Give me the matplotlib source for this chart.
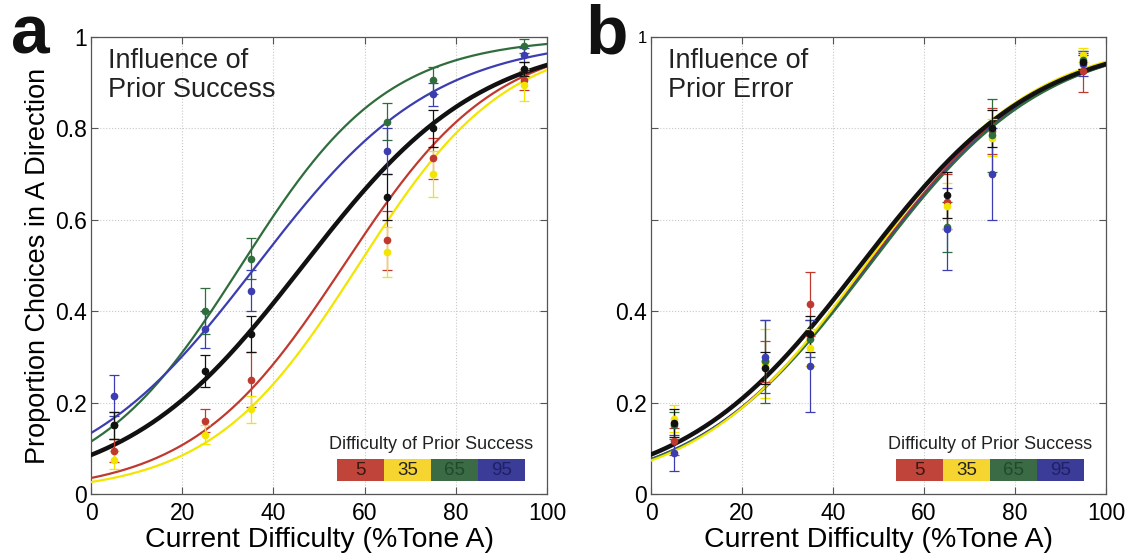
import numpy as np
import matplotlib
matplotlib.use("Agg")
import matplotlib.pyplot as plt
from matplotlib.patches import Rectangle

plt.rcParams["font.family"] = ["Liberation Sans", "DejaVu Sans"]

# Difficulty levels of the current trial (% tone A)
X_LEVELS = [5, 25, 35, 65, 75, 95]
PRIOR_LEVELS = ["5", "35", "65", "95"]

# Panel a: influence of prior success  (mean, error half-width)
a_red = [0.095, 0.16, 0.25, 0.555, 0.735, 0.905]
a_red_err = [0.025, 0.025, 0.06, 0.065, 0.045, 0.02]
a_yellow = [0.075, 0.13, 0.185, 0.53, 0.70, 0.895]
a_yellow_err = [0.02, 0.02, 0.03, 0.055, 0.05, 0.035]
a_green = [0.15, 0.40, 0.515, 0.815, 0.905, 0.98]
a_green_err = [0.03, 0.05, 0.045, 0.04, 0.03, 0.015]
a_blue = [0.215, 0.36, 0.445, 0.75, 0.875, 0.96]
a_blue_err = [0.045, 0.04, 0.045, 0.05, 0.025, 0.015]
a_black = [0.15, 0.27, 0.35, 0.65, 0.80, 0.93]
a_black_err = [0.03, 0.035, 0.04, 0.05, 0.04, 0.015]

# Panel b: influence of prior error
b_red = [0.115, 0.29, 0.415, 0.64, 0.795, 0.925]
b_red_err = [0.03, 0.045, 0.07, 0.06, 0.05, 0.045]
b_yellow = [0.165, 0.285, 0.32, 0.63, 0.78, 0.96]
b_yellow_err = [0.03, 0.075, 0.04, 0.05, 0.04, 0.015]
b_green = [0.15, 0.29, 0.34, 0.585, 0.785, 0.95]
b_green_err = [0.03, 0.09, 0.04, 0.055, 0.08, 0.02]
b_blue = [0.09, 0.30, 0.28, 0.58, 0.70, 0.94]
b_blue_err = [0.04, 0.08, 0.10, 0.09, 0.10, 0.025]
b_black = [0.155, 0.275, 0.35, 0.655, 0.80, 0.945]
b_black_err = [0.03, 0.035, 0.04, 0.05, 0.04, 0.015]

# Logistic fit parameters (midpoint, scale)
a_fits = {"red": (55.4, 16.7), "yellow": (58.6, 16.2), "green": (32.9, 16.1),
          "blue": (36.3, 19.4), "black": (46.5, 19.6)}
b_fits = {"red": (47.5, 19.0), "blue": (47.8, 19.2), "green": (48.0, 19.2),
          "black": (46.0, 19.5), "yellow": (47.0, 18.5)}

COLORS = {"red": "#c0392f", "yellow": "#f2e600", "green": "#2f6e3c",
          "blue": "#3b3db0", "black": "#111111"}
LEG_COLORS = ["#c0443a", "#f6d530", "#3a6b45", "#3b3b98"]
LEG_TEXT = ["#3a1812", "#222222", "#1f4a2c", "#202066"]


def logistic(x, m, s):
    return 1.0 / (1.0 + np.exp(-(x - m) / s))


def draw_panel(ax, series, fits, title):
    xs = np.linspace(0, 100, 300)
    for name, (m, s) in fits.items():
        lw = 3.2 if name == "black" else 1.6
        ax.plot(xs, logistic(xs, m, s), color=COLORS[name], lw=lw,
                zorder=4 if name == "black" else 3)
    for name, (vals, errs) in series.items():
        ax.errorbar(X_LEVELS, vals, yerr=errs, fmt="o", ms=4.5,
                    color=COLORS[name], ecolor=COLORS[name], elinewidth=0.9,
                    capsize=3.5, capthick=0.9, zorder=5)

    ax.set_xlim(0, 100)
    ax.set_ylim(0, 1)
    ax.set_xticks([0, 20, 40, 60, 80, 100])
    ax.grid(True, linestyle=":", color="#c8c8c8", lw=0.8)
    ax.tick_params(direction="in", top=True, right=True, length=5,
                   width=0.8, color="#555555", labelsize=16.5)
    ax.tick_params(axis="x", pad=6)
    ax.tick_params(axis="y", pad=3)
    for sp in ax.spines.values():
        sp.set_color("#555555")
        sp.set_linewidth(0.9)
    ax.set_xlabel("Current Difficulty (%Tone A)", fontsize=20.5, labelpad=1)

    ax.text(0.037, 0.975, title, transform=ax.transAxes, fontsize=19.5,
            va="top", ha="left", color="#222222", linespacing=1.15)

    # colour-bar style legend
    x0, w, y0, h = 0.539, 0.1032, 0.028, 0.049
    for i, (lab, c) in enumerate(zip(PRIOR_LEVELS, LEG_COLORS)):
        ax.add_patch(Rectangle((x0 + i * w, y0), w, h, transform=ax.transAxes,
                               facecolor=c, edgecolor="none", zorder=6))
        ax.text(x0 + (i + 0.5) * w, y0 + h / 2 - 0.002, lab, transform=ax.transAxes,
                ha="center", va="center", fontsize=13.5, color=LEG_TEXT[i], zorder=7)
    ax.text(x0 + 2 * w, y0 + h + 0.012, "Difficulty of Prior Success",
            transform=ax.transAxes, ha="center", va="bottom", fontsize=13,
            color="#222222", zorder=7)


fig = plt.figure(figsize=(11.35, 5.58), dpi=100)
ax_a = fig.add_axes([0.0802, 0.1147, 0.4018, 0.819])
ax_b = fig.add_axes([0.5736, 0.1147, 0.4009, 0.819])

series_a = {"red": (a_red, a_red_err), "yellow": (a_yellow, a_yellow_err),
            "green": (a_green, a_green_err), "blue": (a_blue, a_blue_err),
            "black": (a_black, a_black_err)}
series_b = {"red": (b_red, b_red_err), "yellow": (b_yellow, b_yellow_err),
            "green": (b_green, b_green_err), "blue": (b_blue, b_blue_err),
            "black": (b_black, b_black_err)}

draw_panel(ax_a, series_a, a_fits, "Influence of\nPrior Success")
draw_panel(ax_b, series_b, b_fits, "Influence of\nPrior Error")

ax_a.set_yticks([0, 0.2, 0.4, 0.6, 0.8, 1])
ax_a.set_yticklabels(["0", "0.2", "0.4", "0.6", "0.8", "1"])
ax_a.set_ylabel("Proportion Choices in A Direction", fontsize=19.5, labelpad=3)

ax_b.set_yticks([0, 0.2, 0.4, 0.6, 0.8, 1])
ax_b.set_yticklabels(["0", "0.2", "0.4", "", "", "1"])
ax_b.get_yticklabels()[-1].set_fontsize(12)

fig.text(0.010, 0.905, "a", fontsize=50, fontweight="bold", color="#111111")
fig.text(0.516, 0.905, "b", fontsize=50, fontweight="bold", color="#111111")

fig.savefig("out.png", dpi=100)
